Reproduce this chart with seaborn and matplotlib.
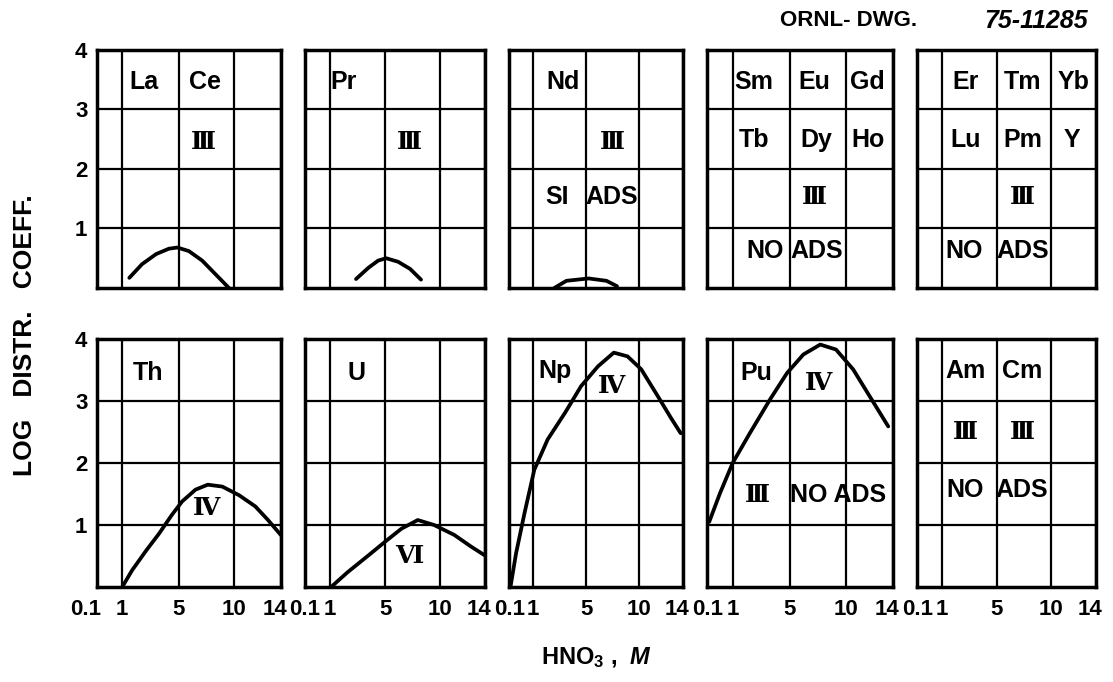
import numpy as np
import matplotlib.pyplot as plt
import matplotlib.transforms as mtransforms
import seaborn as sns

sns.set_theme(style="white")
plt.rcParams['font.family'] = ['Liberation Sans', 'DejaVu Sans']
plt.rcParams['font.weight'] = 'bold'
plt.rcParams['text.color'] = 'black'
plt.rcParams['xtick.color'] = 'black'
plt.rcParams['ytick.color'] = 'black'
plt.rcParams['mathtext.fontset'] = 'custom'
plt.rcParams['mathtext.rm'] = 'Liberation Sans:bold'
plt.rcParams['mathtext.bf'] = 'Liberation Sans:bold'
plt.rcParams['mathtext.it'] = 'Liberation Sans:bold:italic'

# HNO3 axis of the drawing is hand spaced, not linear
hno3_ticks = [0.1, 1, 5, 10, 14]
hno3_labels = ["0.1", "1", "5", "10", "14"]
tick_pos = [0.0, 0.137, 0.445, 0.748, 1.0]
y_ticks = [1, 2, 3, 4]
y_labels = ["1", "2", "3", "4"]

# curves: HNO3 (M) vs log distribution coefficient
lace_m = [1.5, 2.4, 3.4, 4.3, 4.9, 5.9, 7.1, 8.3, 9.5]
lace_d = [0.17, 0.40, 0.57, 0.66, 0.68, 0.62, 0.46, 0.23, 0.0]
pr_m = [2.9, 3.8, 4.5, 5.1, 6.2, 7.3, 8.3]
pr_d = [0.15, 0.34, 0.46, 0.50, 0.44, 0.32, 0.14]
nd_m = [2.6, 3.5, 5.2, 6.9, 7.9]
nd_d = [0.0, 0.12, 0.16, 0.12, 0.03]
th_m = [1.0, 1.7, 2.7, 3.6, 4.5, 5.3, 6.5, 7.6, 8.9, 10.4, 11.8, 12.9, 14.0]
th_d = [0.0, 0.27, 0.59, 0.86, 1.16, 1.38, 1.57, 1.65, 1.62, 1.48, 1.30, 1.08, 0.84]
u_m = [1.1, 2.3, 3.8, 5.0, 6.5, 8.0, 9.5, 11.3, 12.8, 14.0]
u_d = [0.0, 0.24, 0.51, 0.73, 0.94, 1.08, 1.0, 0.84, 0.65, 0.51]
np_m = [0.15, 0.36, 0.68, 1.1, 2.1, 3.4, 4.6, 6.1, 7.6, 8.9, 10.2, 11.7, 12.9, 13.8]
np_d = [0.0, 0.54, 1.19, 1.89, 2.38, 2.81, 3.24, 3.56, 3.78, 3.72, 3.51, 3.08, 2.73, 2.48]
pu_m = [0.17, 0.55, 1.0, 2.2, 3.6, 4.8, 6.2, 7.7, 9.1, 10.6, 12.0, 13.6]
pu_d = [1.05, 1.51, 2.0, 2.48, 3.02, 3.45, 3.75, 3.91, 3.83, 3.51, 3.08, 2.59]

curves = {(0, 0): (lace_m, lace_d), (0, 1): (pr_m, pr_d), (0, 2): (nd_m, nd_d),
          (1, 0): (th_m, th_d), (1, 1): (u_m, u_d), (1, 2): (np_m, np_d),
          (1, 3): (pu_m, pu_d)}

# panel annotations: text, x and y as fraction of the panel
notes = {
    (0, 0): [("La", 0.256, 0.866), ("Ce", 0.586, 0.866), ("Ⅲ", 0.577, 0.613)],
    (0, 1): [("Pr", 0.213, 0.866), ("Ⅲ", 0.583, 0.613)],
    (0, 2): [("Nd", 0.308, 0.866), ("Ⅲ", 0.592, 0.613),
             ("SI", 0.276, 0.381), ("ADS", 0.592, 0.381)],
    (0, 3): [("Sm", 0.252, 0.866), ("Eu", 0.578, 0.866), ("Gd", 0.865, 0.866),
             ("Tb", 0.252, 0.62), ("Dy", 0.588, 0.62), ("Ho", 0.865, 0.62),
             ("Ⅲ", 0.578, 0.381), ("NO", 0.311, 0.156), ("ADS", 0.588, 0.156)],
    (0, 4): [("Er", 0.273, 0.866), ("Tm", 0.589, 0.866), ("Yb", 0.875, 0.866),
             ("Lu", 0.273, 0.62), ("Pm", 0.589, 0.62), ("Y", 0.865, 0.62),
             ("Ⅲ", 0.589, 0.381), ("NO", 0.263, 0.156), ("ADS", 0.589, 0.156)],
    (1, 0): [("Th", 0.277, 0.862), ("Ⅳ", 0.595, 0.317)],
    (1, 1): [("U", 0.285, 0.862), ("Ⅵ", 0.578, 0.125)],
    (1, 2): [("Np", 0.262, 0.869), ("Ⅳ", 0.59, 0.81)],
    (1, 3): [("Pu", 0.262, 0.862), ("Ⅳ", 0.598, 0.822),
             ("Ⅲ", 0.268, 0.37), ("NO ADS", 0.703, 0.37)],
    (1, 4): [("Am", 0.268, 0.869), ("Cm", 0.587, 0.869),
             ("Ⅲ", 0.268, 0.623), ("Ⅲ", 0.587, 0.623),
             ("NO", 0.268, 0.39), ("ADS", 0.587, 0.39)],
}
roman = {"Ⅲ", "Ⅳ", "Ⅵ"}


def fwd(x):
    return np.interp(x, hno3_ticks, tick_pos)


def inv(p):
    return np.interp(p, tick_pos, hno3_ticks)


fig = plt.figure(figsize=(11.13, 6.82), dpi=100)
gs = fig.add_gridspec(2, 5, left=0.0872, right=0.9847, top=0.9267, bottom=0.1393,
                      width_ratios=[184, 180, 174, 186, 179], height_ratios=[237, 247],
                      wspace=0.135, hspace=0.21)

for r in range(2):
    for c in range(5):
        ax = fig.add_subplot(gs[r, c])
        ax.set_xscale('function', functions=(fwd, inv))
        ax.set_xlim(0.1, 14)
        ax.set_ylim(0, 4)
        ax.set_xticks(hno3_ticks)
        ax.set_yticks(y_ticks)
        ax.grid(True, color='black', lw=1.6)
        for s in ax.spines.values():
            s.set_color('black')
            s.set_linewidth(2.5)
        ax.tick_params(length=0, labelsize=16, pad=9)
        if r == 1:
            ax.set_xticklabels(hno3_labels, fontweight='bold')
            labs = ax.get_xticklabels()
            shift0 = -8 if c == 0 else 0
            labs[0].set_transform(labs[0].get_transform() +
                                  mtransforms.ScaledTranslation(shift0 / 72, 0, fig.dpi_scale_trans))
            labs[-1].set_transform(labs[-1].get_transform() +
                                   mtransforms.ScaledTranslation(-4 / 72, 0, fig.dpi_scale_trans))
        else:
            ax.set_xticklabels([])
        if c == 0:
            ax.set_yticklabels(y_labels, fontweight='bold')
            ax.tick_params(axis='y', pad=7)
        else:
            ax.set_yticklabels([])

        if (r, c) in curves:
            xm, yd = curves[(r, c)]
            sns.lineplot(x=xm, y=yd, ax=ax, color='black', lw=2.7, sort=False,
                         estimator=None, solid_joinstyle='round', solid_capstyle='round')

        for txt, fx, fy in notes[(r, c)]:
            if txt in roman:
                ax.text(fx, fy, txt, transform=ax.transAxes, ha='center', va='center',
                        fontsize=18, fontweight='bold', family=['DejaVu Serif', 'DejaVu Sans'])
            else:
                ax.text(fx, fy, txt, transform=ax.transAxes, ha='center', va='center',
                        fontsize=18, fontweight='bold')
        ax.set_xlabel('')
        ax.set_ylabel('')

fig.text(25 / 1113, 1 - 335 / 682, "LOG   DISTR.   COEFF.", rotation=90,
         ha='center', va='center', fontsize=19, fontweight='bold')
fig.text(596 / 1113, 1 - 658 / 682, r"HNO$_\mathbf{3}$ ,  $M$",
         ha='center', va='center', fontsize=17, fontweight='bold')
fig.text(917 / 1113, 1 - 21 / 682, "ORNL- DWG.", ha='right', va='center',
         fontsize=16, fontweight='bold')
fig.text(1088 / 1113, 1 - 21 / 682, "75-11285", ha='right', va='center',
         fontsize=18, fontweight='bold', style='italic')

plt.savefig('out.png', dpi=100)
